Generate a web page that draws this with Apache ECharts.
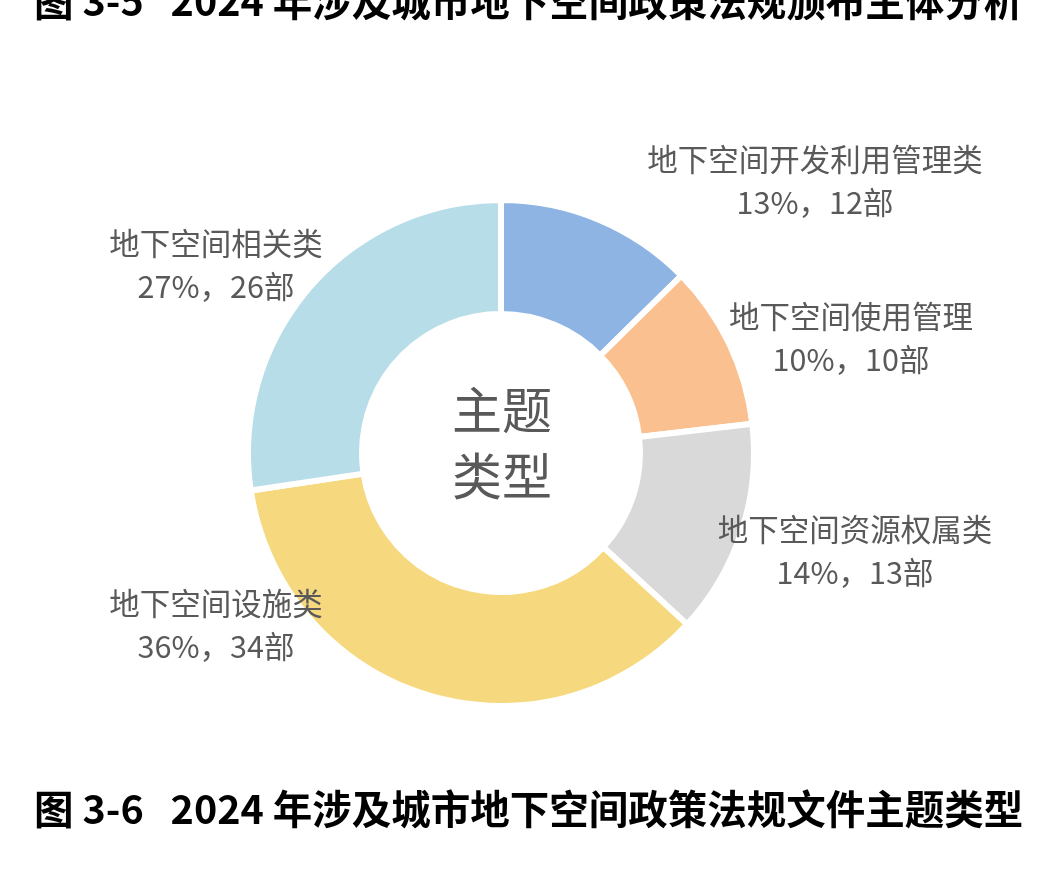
<!DOCTYPE html>
<html>
<head>
<meta charset="utf-8">
<script src="https://cdn.jsdelivr.net/npm/echarts@6/dist/echarts.min.js"></script>
<style>
html,body{margin:0;padding:0;background:#fff;}
#chart{width:1037px;height:876px;}
</style>
</head>
<body>
<div id="chart"></div>
<script>
var categories = ['地下空间开发利用管理类', '地下空间使用管理', '地下空间资源权属类', '地下空间设施类', '地下空间相关类'];
var counts = [12, 10, 13, 34, 26];
var percents = [13, 10, 14, 36, 27];
var colors = ['#8EB4E3', '#FAC090', '#D9D9D9', '#F6D97F', '#B7DDE8'];
var topTitle = '图 3-5   2024 年涉及城市地下空间政策法规颁布主体分析';
var bottomTitle = '图 3-6   2024 年涉及城市地下空间政策法规文件主题类型';
var centerText = '主题\n类型';

var labelPos = [[815, 181], [851, 338], [855, 551], [216, 625], [216, 265]];
var FONT = '"Noto Sans CJK SC", "Noto Sans", sans-serif';

var chart = echarts.init(document.getElementById('chart'), null, {renderer: 'canvas'});
var data = categories.map(function (c, i) {
  return {name: c, value: counts[i], itemStyle: {color: colors[i]}};
});
chart.setOption({
  backgroundColor: '#ffffff',
  animation: false,
  graphic: [
    {type: 'text', left: 34, top: -19, style: {text: topTitle, font: 'bold 39.5px ' + FONT, fill: '#000'}},
    {type: 'text', left: 34, top: 789, style: {text: bottomTitle, font: 'bold 39.5px ' + FONT, fill: '#000'}},
    {type: 'text', x: 502, y: 443, style: {text: centerText, font: '50px ' + FONT, fill: '#595959', align: 'center', verticalAlign: 'middle', lineHeight: 66}}
  ],
  series: [{
    type: 'pie',
    center: [501, 453],
    radius: [139, 253],
    startAngle: 90,
    clockwise: true,
    avoidLabelOverlap: false,
    itemStyle: {borderColor: '#ffffff', borderWidth: 6},
    label: {
      show: true,
      position: 'outside',
      color: '#595959',
      fontSize: 30.5,
      fontFamily: FONT,
      lineHeight: 43,
      align: 'center',
      formatter: function (p) {
        return p.name + '\n' + percents[p.dataIndex] + '%，' + counts[p.dataIndex] + '部';
      }
    },
    labelLine: {show: false},
    labelLayout: function (p) {
      var pos = labelPos[p.dataIndex];
      return {x: pos[0], y: pos[1], align: 'center', verticalAlign: 'middle'};
    },
    emphasis: {disabled: true},
    data: data
  }]
});
</script>
</body>
</html>
